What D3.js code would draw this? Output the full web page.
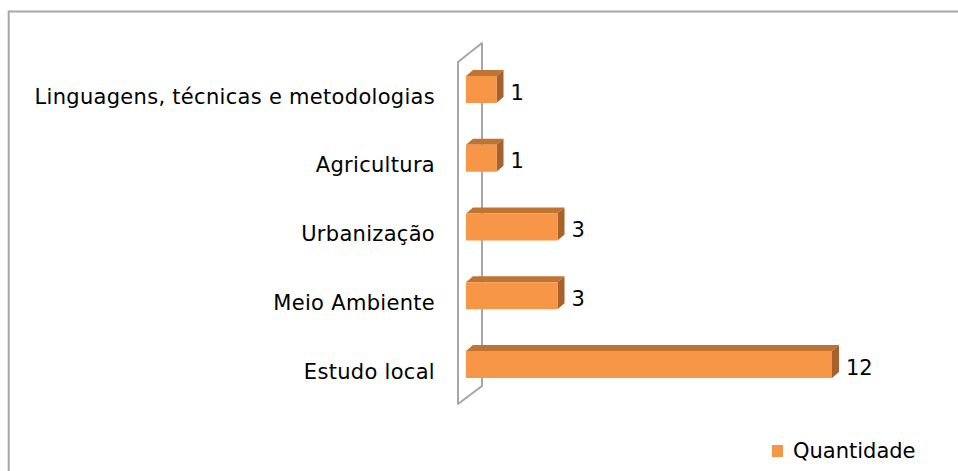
<!DOCTYPE html>
<html>
<head>
<meta charset="utf-8">
<script src="https://cdn.jsdelivr.net/npm/d3@7"></script>
<style>
  body { margin: 0; background: #fff; }
  svg { display: block; }
</style>
</head>
<body>
<div id="chart"></div>
<script>
// data
const categories = ["Linguagens, técnicas e metodologias", "Agricultura", "Urbanização", "Meio Ambiente", "Estudo local"];
const values = [1, 1, 3, 3, 12];
const seriesName = "Quantidade";

const W = 958, H = 471;

const svg = d3.select("#chart")
  .append("svg")
  .attr("width", W)
  .attr("height", H)
  .style("font-family", "'DejaVu Sans', sans-serif");

// chart frame (runs past the right and bottom of the window)
svg.append("rect")
  .attr("x", 8.7)
  .attr("y", 11.5)
  .attr("width", 1000)
  .attr("height", 500)
  .attr("fill", "none")
  .attr("stroke", "#a6a6a6")
  .attr("stroke-width", 2);

// scales
const x = d3.scaleLinear().domain([0, 12]).range([466, 832]);
const y = d3.scalePoint().domain(categories).range([89.5, 364.5]);

const barH = 27;
const dx = 7, dy = -6; // depth of the 3d bars

// back wall drawn as an outline
const wallFront = x(0) - 8, wallBack = x(0) + 16;
const wallTop = y(categories[0]) - 27.5, wallBot = y(categories[categories.length - 1]) + 39.5;
svg.append("polygon")
  .attr("points", [
    [wallFront, wallTop],
    [wallBack, wallTop - 19],
    [wallBack, wallBot - 18],
    [wallFront, wallBot]
  ].map(p => p.join(",")).join(" "))
  .attr("fill", "none")
  .attr("stroke", "#a6a6a6")
  .attr("stroke-width", 2)
  .attr("stroke-linejoin", "round");

const data = categories.map((c, i) => ({cat: c, value: values[i]}));

const bars = svg.append("g")
  .selectAll("g")
  .data(data)
  .join("g");

// top face
bars.append("polygon")
  .attr("points", d => {
    const x0 = x(0), x1 = x(d.value), yt = y(d.cat) - barH / 2;
    return [[x0, yt], [x0 + dx, yt + dy], [x1 + dx, yt + dy], [x1, yt]].map(p => p.join(",")).join(" ");
  })
  .attr("fill", "#c07434");

// side face
bars.append("polygon")
  .attr("points", d => {
    const x1 = x(d.value), yt = y(d.cat) - barH / 2;
    return [[x1, yt], [x1 + dx, yt + dy], [x1 + dx, yt + dy + barH], [x1, yt + barH]].map(p => p.join(",")).join(" ");
  })
  .attr("fill", "#a8612a");

// front face
bars.append("rect")
  .attr("x", x(0))
  .attr("y", d => y(d.cat) - barH / 2)
  .attr("width", d => x(d.value) - x(0))
  .attr("height", barH)
  .attr("fill", "#f79646");

// value labels
bars.append("text")
  .attr("x", d => x(d.value) + dx + 7)
  .attr("y", d => y(d.cat) + 10)
  .attr("font-size", 21)
  .attr("fill", "#000")
  .text(d => d.value);

// category labels
svg.append("g")
  .selectAll("text")
  .data(categories)
  .join("text")
  .attr("x", 435)
  .attr("y", d => y(d) + 14)
  .attr("text-anchor", "end")
  .attr("font-size", 21)
  .attr("letter-spacing", 0.3)
  .attr("fill", "#000")
  .text(d => d);

// legend
const legend = svg.append("g").attr("transform", "translate(772,445)");
legend.append("rect")
  .attr("width", 11)
  .attr("height", 12)
  .attr("fill", "#f79646");
legend.append("text")
  .attr("x", 21)
  .attr("y", 13)
  .attr("font-size", 21)
  .attr("fill", "#000")
  .text(seriesName);
</script>
</body>
</html>
